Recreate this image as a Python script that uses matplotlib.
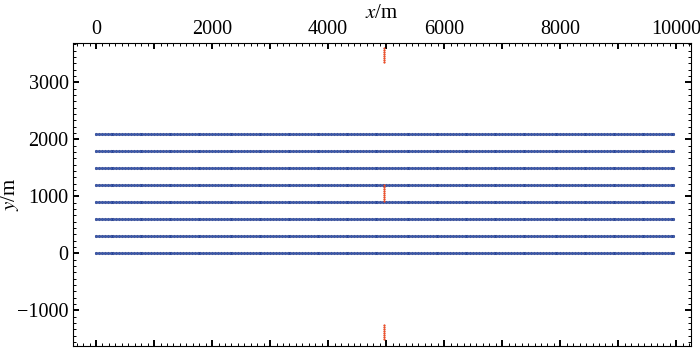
import numpy as np
import matplotlib
matplotlib.use("Agg")
import matplotlib.pyplot as plt
from matplotlib.ticker import MultipleLocator, AutoMinorLocator

plt.rcParams['font.family'] = ['Liberation Serif', 'DejaVu Serif']
plt.rcParams['mathtext.fontset'] = 'stix'
plt.rcParams['axes.unicode_minus'] = True

# source lines (blue), y of each line and station x positions
line_y = [0, 300, 600, 900, 1200, 1500, 1800, 2100]
line_x_start = 0
line_x_end = 9950
station_step = 50

# receiver groups (red)
rec_x = 4960
rec_top_y = [3350, 3385, 3420, 3455, 3490, 3525, 3560, 3600]
rec_mid_y = [910, 945, 980, 1015, 1050, 1085, 1120, 1155, 1190]
rec_bot_y = [-1500, -1465, -1430, -1395, -1360, -1325, -1290, -1255]

fig = plt.figure(figsize=(7, 3.5), dpi=100)
ax = fig.add_axes([0.104, 0.011, 0.883, 0.866])

xs = np.arange(line_x_start, line_x_end + 1, station_step)
for yv in line_y:
    ax.plot(xs, [yv] * len(xs), 'o', ms=1.8, mfc='#3a5fb8', mec='#1c3384',
            mew=0.45, ls='none')

rec_y = rec_top_y + rec_mid_y + rec_bot_y
ax.plot([rec_x] * len(rec_y), rec_y, 'o', ms=1.2, mfc='#f0502a', mec='#e0401c',
        mew=0.3, ls='none')

ax.set_xlim(-400, 10250)
ax.set_ylim(-1630, 3690)

ax.xaxis.set_minor_locator(AutoMinorLocator(9))
ax.yaxis.set_major_locator(MultipleLocator(1000))
ax.yaxis.set_minor_locator(AutoMinorLocator(9))
ax.tick_params(which='both', direction='in', top=True, right=True,
               bottom=True, left=True, labeltop=True, labelbottom=False,
               labelsize=14.5, width=0.7)
ax.tick_params(which='major', length=4, width=1.4, pad=3)
ax.tick_params(which='minor', length=2)
ax.set_xticks(np.arange(0, 10001, 1000), minor=False)
ax.set_xticklabels(['0', '', '2000', '', '4000', '', '6000', '', '8000', '', '10000'])

ax.xaxis.set_label_position('top')
ax.set_xlabel('$x$/m', fontsize=15, labelpad=1)
ax.set_ylabel('$y$/m', fontsize=15)
ax.yaxis.set_label_coords(-0.084, 0.5)

for s in ax.spines.values():
    s.set_linewidth(0.8)

fig.savefig('out.png', dpi=100)
